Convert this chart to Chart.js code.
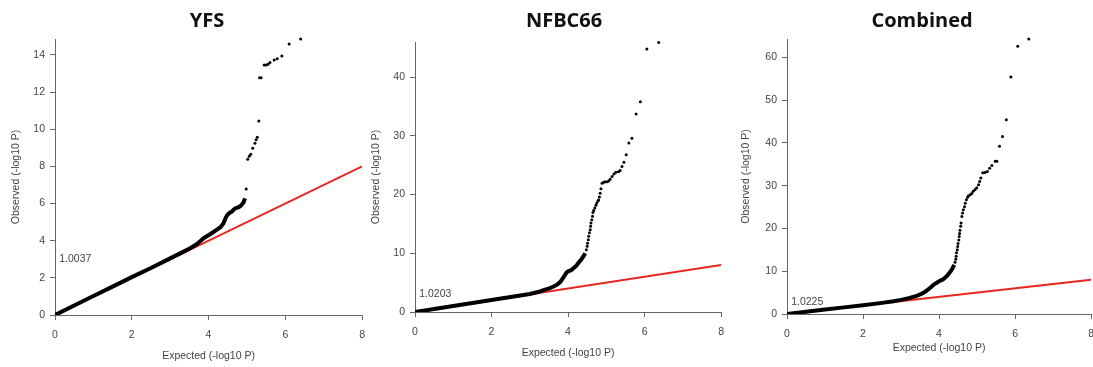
<!DOCTYPE html>
<html>
<head>
<meta charset="utf-8">
<title>QQ plots</title>
<script src="https://cdn.jsdelivr.net/npm/chart.js@4.4.1/dist/chart.umd.min.js"></script>
<style>
  html, body { margin: 0; padding: 0; background: #fff; overflow: hidden; }
  #wrap { position: relative; width: 1093px; height: 367px; overflow: hidden; }
  canvas { position: absolute; top: 0; }
</style>
</head>
<body>
<div id="wrap">
  <canvas id="yfs" width="374" height="367" style="left:0px"></canvas>
  <canvas id="nfbc" width="367" height="367" style="left:366px"></canvas>
  <canvas id="combined" width="377" height="367" style="left:726px"></canvas>
</div>
<script>
// shared axis stuff
const xTicks = [0, 2, 4, 6, 8];
const nullX = [0, 8];
const nullY = [0, 8];
const xLabel = 'Expected (-log10 P)';
const yLabel = 'Observed (-log10 P)';

// YFS
const yfsTitle = 'YFS';
const yfsLambda = '1.0037';
const yfsTicks = [0, 2, 4, 6, 8, 10, 12, 14];
const yfsMax = 14.86;
const yfsBandX = [0, 0.5, 1, 1.5, 2, 2.5, 3, 3.3, 3.52, 3.7, 3.87, 4.05, 4.21, 4.32, 4.39, 4.44, 4.49, 4.55, 4.6, 4.69, 4.78, 4.84, 4.91, 4.95];
const yfsBandY = [0, 0.51, 1.02, 1.53, 2.04, 2.53, 3.05, 3.36, 3.59, 3.82, 4.13, 4.36, 4.58, 4.75, 4.94, 5.2, 5.39, 5.5, 5.56, 5.74, 5.8, 5.88, 6.05, 6.28];
const yfsTopX = [4.98, 5.02, 5.06, 5.1, 5.15, 5.21, 5.24, 5.27, 5.31, 5.33, 5.37, 5.45, 5.5, 5.55, 5.6, 5.71, 5.79, 5.91, 6.1, 6.4];
const yfsTopY = [6.79, 8.38, 8.55, 8.66, 8.98, 9.25, 9.43, 9.57, 10.45, 12.78, 12.78, 13.46, 13.46, 13.5, 13.59, 13.73, 13.79, 13.95, 14.59, 14.86];

// NFBC66
const nfbcTitle = 'NFBC66';
const nfbcLambda = '1.0203';
const nfbcTicks = [0, 10, 20, 30, 40];
const nfbcMax = 46;
const nfbcBandX = [0, 0.5, 1, 1.5, 2, 2.5, 3, 3.27, 3.4, 3.53, 3.62, 3.71, 3.78, 3.84, 3.9, 3.96, 4.01, 4.08, 4.14, 4.21, 4.27, 4.34, 4.4, 4.45];
const nfbcBandY = [0, 0.5, 1.02, 1.53, 2.04, 2.55, 3.06, 3.5, 3.8, 4.08, 4.35, 4.65, 5.0, 5.5, 6.1, 6.7, 6.95, 7.1, 7.45, 7.85, 8.34, 8.9, 9.46, 10.0];
const nfbcTopX = [4.48, 4.5, 4.51, 4.53, 4.54, 4.56, 4.58, 4.59, 4.6, 4.62, 4.64, 4.65, 4.67, 4.7, 4.73, 4.75, 4.78, 4.8, 4.82, 4.84, 4.86, 4.89, 4.93, 4.97, 5.02, 5.06, 5.1, 5.15, 5.2, 5.25, 5.32, 5.36, 5.41, 5.46, 5.52, 5.59, 5.67, 5.78, 5.89, 6.06, 6.37];
const nfbcTopY = [10.6, 11.2, 11.7, 12.3, 12.9, 13.5, 14.0, 14.6, 15.15, 15.7, 16.3, 16.95, 17.3, 17.7, 18.2, 18.55, 18.9, 19.1, 19.6, 20.25, 21.0, 21.95, 22.1, 22.2, 22.2, 22.3, 22.6, 23.1, 23.5, 23.8, 23.9, 24.1, 24.8, 25.5, 26.8, 28.8, 29.6, 33.75, 35.8, 44.8, 45.9];

// Combined
const combTitle = 'Combined';
const combLambda = '1.0225';
const combTicks = [0, 10, 20, 30, 40, 50, 60];
const combMax = 64.3;
const combBandX = [0, 0.5, 1, 1.5, 2, 2.5, 2.8, 3.0, 3.2, 3.41, 3.59, 3.68, 3.76, 3.85, 3.94, 4.03, 4.11, 4.2, 4.29, 4.35, 4.4];
const combBandY = [0, 0.51, 1.03, 1.55, 2.07, 2.6, 2.97, 3.3, 3.7, 4.2, 4.95, 5.5, 6.1, 6.8, 7.3, 7.8, 8.1, 8.8, 9.8, 10.6, 11.5];
const combTopX = [4.42, 4.44, 4.45, 4.46, 4.48, 4.49, 4.5, 4.52, 4.53, 4.54, 4.55, 4.57, 4.58, 4.6, 4.62, 4.64, 4.67, 4.69, 4.72, 4.75, 4.77, 4.82, 4.86, 4.9, 4.95, 4.99, 5.04, 5.07, 5.1, 5.15, 5.21, 5.27, 5.33, 5.39, 5.48, 5.52, 5.59, 5.67, 5.77, 5.89, 6.07, 6.36];
const combTopY = [12.1, 12.8, 13.5, 14.3, 15.0, 15.8, 16.5, 17.3, 18.1, 18.8, 19.6, 20.5, 21.3, 22.8, 23.6, 24.4, 25.1, 25.9, 26.7, 27.3, 27.6, 27.9, 28.2, 28.7, 29.1, 29.5, 30.2, 31.0, 31.8, 33.0, 33.1, 33.3, 34.1, 34.7, 35.7, 35.7, 39.2, 41.5, 45.4, 55.4, 62.6, 64.3];

const pts = (xs, ys) => xs.map((x, i) => ({ x: x, y: ys[i] }));

const tickFont = { family: 'Liberation Sans', size: 10.5 };

// title above the plot + lambda value in the corner
const panelText = {
  id: 'panelText',
  afterDraw(chart, args, opts) {
    const { ctx, chartArea, scales } = chart;
    ctx.save();
    ctx.fillStyle = '#111';
    ctx.font = 'bold 20px "Open Sans"';
    ctx.textAlign = 'center';
    ctx.textBaseline = 'alphabetic';
    ctx.fillText(opts.title, (chartArea.left + chartArea.right) / 2 + opts.titleShift, 26.5);
    ctx.fillStyle = '#444';
    ctx.font = '10.5px "Liberation Sans"';
    ctx.textAlign = 'left';
    ctx.textBaseline = 'middle';
    ctx.fillText(opts.lambda, scales.x.getPixelForValue(0.11), scales.y.getPixelForValue(opts.lambdaY));
    ctx.restore();
  }
};

function buildChart(id, d, lay) {
  const ctx = document.getElementById(id).getContext('2d');
  return new Chart(ctx, {
    type: 'scatter',
    data: {
      datasets: [
        {
          // the tail points
          data: pts(d.topX, d.topY),
          backgroundColor: '#000',
          borderWidth: 0,
          pointRadius: 1.5,
          clip: false,
          order: 0
        },
        {
          // the bulk of the points, too dense to see apart
          data: pts(d.bandX, d.bandY),
          showLine: true,
          borderColor: '#000',
          borderWidth: 4,
          borderJoinStyle: 'round',
          pointRadius: 0,
          order: 1
        },
        {
          data: pts(nullX, nullY),
          showLine: true,
          borderColor: '#e8261f',
          borderWidth: 2,
          pointRadius: 0,
          order: 2
        }
      ]
    },
    options: {
      responsive: false,
      animation: false,
      events: [],
      layout: { padding: { top: lay.top, right: 0, left: 0, bottom: 0 } },
      plugins: {
        legend: { display: false },
        tooltip: { enabled: false },
        panelText: { title: d.title, lambda: d.lambda, lambdaY: d.lambdaY, titleShift: lay.titleShift }
      },
      scales: {
        x: {
          type: 'linear',
          min: 0,
          max: 8,
          afterBuildTicks: s => { s.ticks = xTicks.map(v => ({ value: v })); },
          afterFit: s => { s.height = lay.xAxisH; },
          grid: { display: true, drawOnChartArea: false, drawTicks: true, tickLength: 5, color: '#666' },
          border: { display: true, color: '#666' },
          ticks: { color: '#444', font: tickFont, padding: 9, maxRotation: 0 },
          title: { display: true, text: xLabel, color: '#444', font: tickFont, padding: { top: 0, bottom: lay.xTitlePad } }
        },
        y: {
          type: 'linear',
          min: 0,
          max: d.max,
          afterBuildTicks: s => { s.ticks = d.ticks.map(v => ({ value: v })); },
          afterFit: s => { s.width = lay.yAxisW; },
          grid: { display: true, drawOnChartArea: false, drawTicks: true, tickLength: 5, color: '#666' },
          border: { display: true, color: '#666' },
          ticks: { color: '#444', font: tickFont, padding: 5 },
          title: { display: true, text: yLabel, color: '#444', font: tickFont, padding: { top: lay.yTitlePad, bottom: 0 } }
        }
      }
    },
    plugins: [panelText]
  });
}

buildChart('yfs',
  { title: yfsTitle, lambda: yfsLambda, lambdaY: 3.0, ticks: yfsTicks, max: yfsMax,
    bandX: yfsBandX, bandY: yfsBandY, topX: yfsTopX, topY: yfsTopY },
  { top: 39, yAxisW: 55, xAxisH: 52, yTitlePad: 10, xTitlePad: 5, titleShift: -1.5 });

buildChart('nfbc',
  { title: nfbcTitle, lambda: nfbcLambda, lambdaY: 3.06, ticks: nfbcTicks, max: nfbcMax,
    bandX: nfbcBandX, bandY: nfbcBandY, topX: nfbcTopX, topY: nfbcTopY },
  { top: 42, yAxisW: 49, xAxisH: 55, yTitlePad: 4, xTitlePad: 8, titleShift: -4 });

buildChart('combined',
  { title: combTitle, lambda: combLambda, lambdaY: 2.7, ticks: combTicks, max: combMax,
    bandX: combBandX, bandY: combBandY, topX: combTopX, topY: combTopY },
  { top: 39, yAxisW: 61, xAxisH: 53, yTitlePad: 14, xTitlePad: 13, titleShift: -17 });
</script>
</body>
</html>
